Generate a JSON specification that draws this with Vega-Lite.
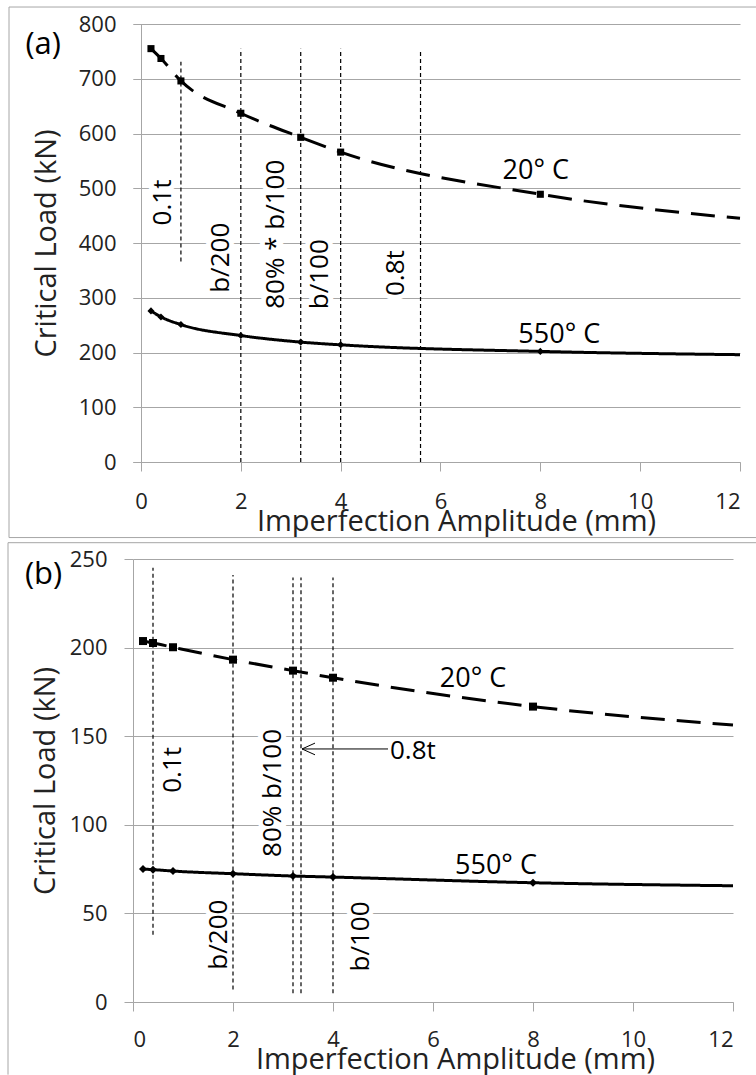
{
  "$schema": "https://vega.github.io/schema/vega-lite/v6.json",
  "background": "white",
  "padding": {"left": 7, "top": 6, "right": 0, "bottom": 0},
  "config": {
    "font": "Open Sans",
    "view": {"stroke": null},
    "axis": {
      "domainColor": "#a6a6a6", "domainWidth": 1,
      "gridColor": "#a6a6a6", "gridWidth": 1,
      "tickColor": "#a6a6a6", "tickSize": 9,
      "labelFont": "Open Sans", "labelFontSize": 22, "labelColor": "#222",
      "titleFont": "Open Sans", "titleFontSize": 29, "titleFontWeight": "normal", "titleColor": "#222"
    },
    "text": {"font": "Open Sans", "color": "#000"}
  },
  "datasets": {
    "frameA": [
      {"x": -2.644, "y": 831, "x2": 12.32, "y2": 831},
      {"x": -2.644, "y": -138, "x2": 12.32, "y2": -138},
      {"x": -2.644, "y": -138, "x2": -2.644, "y2": 831}
    ],
    "frameB": [
      {"x": -2.5, "y": 259.2, "x2": 12.46, "y2": 259.2},
      {"x": -2.5, "y": -41, "x2": -2.5, "y2": 259.2}
    ],
    "curvesA": [
      {"x": 0.2, "y": 755, "T": "20"}, {"x": 0.4, "y": 737, "T": "20"}, {"x": 0.8, "y": 696, "T": "20"},
      {"x": 2, "y": 637, "T": "20"}, {"x": 3.2, "y": 593, "T": "20"}, {"x": 4, "y": 566, "T": "20"},
      {"x": 8, "y": 489, "T": "20"}, {"x": 12, "y": 445, "T": "20"},
      {"x": 0.2, "y": 276, "T": "550"}, {"x": 0.4, "y": 265, "T": "550"}, {"x": 0.8, "y": 251, "T": "550"},
      {"x": 2, "y": 231, "T": "550"}, {"x": 3.2, "y": 219, "T": "550"}, {"x": 4, "y": 214, "T": "550"},
      {"x": 8, "y": 202, "T": "550"}, {"x": 12, "y": 196, "T": "550"}
    ],
    "curvesB": [
      {"x": 0.2, "y": 203.7, "T": "20"}, {"x": 0.4, "y": 202.6, "T": "20"}, {"x": 0.8, "y": 200.2, "T": "20"},
      {"x": 2, "y": 193.2, "T": "20"}, {"x": 3.2, "y": 187, "T": "20"}, {"x": 4, "y": 183, "T": "20"},
      {"x": 8, "y": 166.7, "T": "20"}, {"x": 12, "y": 156.3, "T": "20"},
      {"x": 0.2, "y": 75, "T": "550"}, {"x": 0.4, "y": 74.7, "T": "550"}, {"x": 0.8, "y": 73.9, "T": "550"},
      {"x": 2, "y": 72.4, "T": "550"}, {"x": 3.2, "y": 71.1, "T": "550"}, {"x": 4, "y": 70.5, "T": "550"},
      {"x": 8, "y": 67.3, "T": "550"}, {"x": 12, "y": 65.6, "T": "550"}
    ],
    "vlinesA": [
      {"x": 0.8, "y": 366, "y2": 731}, {"x": 2, "y": 0, "y2": 755}, {"x": 3.2, "y": 0, "y2": 755},
      {"x": 4, "y": 0, "y2": 755}, {"x": 5.6, "y": 0, "y2": 752}
    ],
    "vlinesB": [
      {"x": 0.4, "y": 38, "y2": 245}, {"x": 2, "y": 7, "y2": 241}, {"x": 3.2, "y": 5, "y2": 239.5},
      {"x": 3.36, "y": 5, "y2": 239.5}, {"x": 4, "y": 5, "y2": 239.5}
    ],
    "rlabA": [
      {"x": 0.45, "y": 474, "label": "0.1t"}, {"x": 1.6, "y": 373, "label": "b/200"},
      {"x": 2.7, "y": 416, "label": "80% * b/100"}, {"x": 3.59, "y": 343, "label": "b/100"},
      {"x": 5.11, "y": 345, "label": "0.8t"}
    ],
    "rlabB": [
      {"x": 0.8, "y": 131, "label": "0.1t"}, {"x": 1.72, "y": 38, "label": "b/200"},
      {"x": 2.8, "y": 118, "label": "80% b/100"}, {"x": 4.56, "y": 37, "label": "b/100"}
    ],
    "slabA": [{"x": 7.91, "y": 531, "label": "20° C"}, {"x": 8.38, "y": 232, "label": "550° C"}],
    "slabB": [{"x": 6.8, "y": 182, "label": "20° C"}, {"x": 7.26, "y": 77, "label": "550° C"}],
    "letterA": [{"x": -1.96, "y": 762, "label": "(a)"}],
    "letterB": [{"x": -1.79, "y": 241, "label": "(b)"}],
    "arrowB": [{"x": 3.38, "x2": 5.1, "y": 142.8}],
    "arrowHeadB": [{"x": 3.51, "y": 142.8}],
    "arrowLabB": [{"x": 5.14, "y": 141.6, "label": "0.8t"}]
  },
  "columns": 1,
  "spacing": 3,
  "concat": [
    {
      "width": 607,
      "height": 438,
      "encoding": {
        "x": {"field": "x", "type": "quantitative", "scale": {"domain": [-0.16, 12], "nice": false, "zero": false},
              "axis": {"values": [0, 2, 4, 6, 8, 10, 12], "title": "Imperfection Amplitude (mm)", "grid": false, "labelPadding": 20, "titlePadding": -5, "titleX": 323}},
        "y": {"field": "y", "type": "quantitative", "scale": {"domain": [0, 800], "nice": false},
              "axis": {"values": [0, 100, 200, 300, 400, 500, 600, 700, 800], "title": "Critical Load (kN)", "grid": true, "offset": -8, "tickSize": 8, "labelPadding": 17, "titlePadding": 17}}
      },
      "layer": [
        {"data": {"name": "frameA"}, "mark": {"type": "rule", "color": "#a6a6a6", "strokeWidth": 1},
         "encoding": {"x2": {"field": "x2"}, "y2": {"field": "y2"}}},
        {"data": {"name": "rlabA"}, "mark": {"type": "text", "angle": 270, "fontSize": 26, "align": "center", "baseline": "middle", "color": "white", "stroke": "white", "strokeWidth": 10},
         "encoding": {"text": {"field": "label"}}},
        {"data": {"name": "vlinesA"}, "mark": {"type": "rule", "color": "#000", "strokeWidth": 1.2, "strokeDash": [4, 3]},
         "encoding": {"y2": {"field": "y2"}}},
        {"data": {"name": "curvesA"}, "mark": {"type": "line", "color": "#000", "strokeWidth": 3, "interpolate": "monotone"},
         "encoding": {"strokeDash": {"field": "T", "type": "nominal", "scale": {"domain": ["20", "550"], "range": [[24, 12], [1, 0]]}, "legend": null}}},
        {"data": {"name": "curvesA"}, "transform": [{"filter": "datum.x < 12"}],
         "mark": {"type": "point", "filled": true, "color": "#000", "size": 50, "opacity": 1},
         "encoding": {"shape": {"field": "T", "type": "nominal", "scale": {"domain": ["20", "550"], "range": ["square", "diamond"]}, "legend": null}}},
        {"data": {"name": "rlabA"}, "mark": {"type": "text", "angle": 270, "fontSize": 26, "align": "center", "baseline": "middle"},
         "encoding": {"text": {"field": "label"}}},
        {"data": {"name": "slabA"}, "mark": {"type": "text", "fontSize": 27, "align": "center", "baseline": "middle"},
         "encoding": {"text": {"field": "label"}}},
        {"data": {"name": "letterA"}, "mark": {"type": "text", "fontSize": 31, "align": "center", "baseline": "middle"},
         "encoding": {"text": {"field": "label"}}}
      ]
    },
    {
      "width": 600,
      "height": 443,
      "encoding": {
        "x": {"field": "x", "type": "quantitative", "scale": {"domain": [0, 12], "nice": false, "zero": false},
              "axis": {"values": [0, 2, 4, 6, 8, 10, 12], "title": "Imperfection Amplitude (mm)", "grid": false, "labelPadding": 18, "titlePadding": -5, "titleX": 322}},
        "y": {"field": "y", "type": "quantitative", "scale": {"domain": [0, 250], "nice": false},
              "axis": {"values": [0, 50, 100, 150, 200, 250], "title": "Critical Load (kN)", "grid": true, "labelPadding": 17, "titlePadding": 9}}
      },
      "layer": [
        {"data": {"name": "frameB"}, "mark": {"type": "rule", "color": "#a6a6a6", "strokeWidth": 1},
         "encoding": {"x2": {"field": "x2"}, "y2": {"field": "y2"}}},
        {"data": {"name": "rlabB"}, "mark": {"type": "text", "angle": 270, "fontSize": 26, "align": "center", "baseline": "middle", "color": "white", "stroke": "white", "strokeWidth": 10},
         "encoding": {"text": {"field": "label"}}},
        {"data": {"name": "vlinesB"}, "mark": {"type": "rule", "color": "#000", "strokeWidth": 1.2, "strokeDash": [4, 3]},
         "encoding": {"y2": {"field": "y2"}}},
        {"data": {"name": "curvesB"}, "mark": {"type": "line", "color": "#000", "strokeWidth": 3, "interpolate": "monotone"},
         "encoding": {"strokeDash": {"field": "T", "type": "nominal", "scale": {"domain": ["20", "550"], "range": [[24, 12], [1, 0]]}, "legend": null}}},
        {"data": {"name": "curvesB"}, "transform": [{"filter": "datum.x < 12"}],
         "mark": {"type": "point", "filled": true, "color": "#000", "size": 64, "opacity": 1},
         "encoding": {"shape": {"field": "T", "type": "nominal", "scale": {"domain": ["20", "550"], "range": ["square", "diamond"]}, "legend": null}}},
        {"data": {"name": "arrowB"}, "mark": {"type": "rule", "color": "#000", "strokeWidth": 1},
         "encoding": {"x2": {"field": "x2"}}},
        {"data": {"name": "arrowHeadB"}, "mark": {"type": "point", "shape": "M-1,0L1,-0.9M-1,0L1,0.9", "filled": false, "stroke": "#000", "strokeWidth": 1, "size": 169, "opacity": 1}},
        {"data": {"name": "arrowLabB"}, "mark": {"type": "text", "fontSize": 26, "align": "left", "baseline": "middle"},
         "encoding": {"text": {"field": "label"}}},
        {"data": {"name": "rlabB"}, "mark": {"type": "text", "angle": 270, "fontSize": 26, "align": "center", "baseline": "middle"},
         "encoding": {"text": {"field": "label"}}},
        {"data": {"name": "slabB"}, "mark": {"type": "text", "fontSize": 27, "align": "center", "baseline": "middle"},
         "encoding": {"text": {"field": "label"}}},
        {"data": {"name": "letterB"}, "mark": {"type": "text", "fontSize": 31, "align": "center", "baseline": "middle"},
         "encoding": {"text": {"field": "label"}}}
      ]
    }
  ]
}
